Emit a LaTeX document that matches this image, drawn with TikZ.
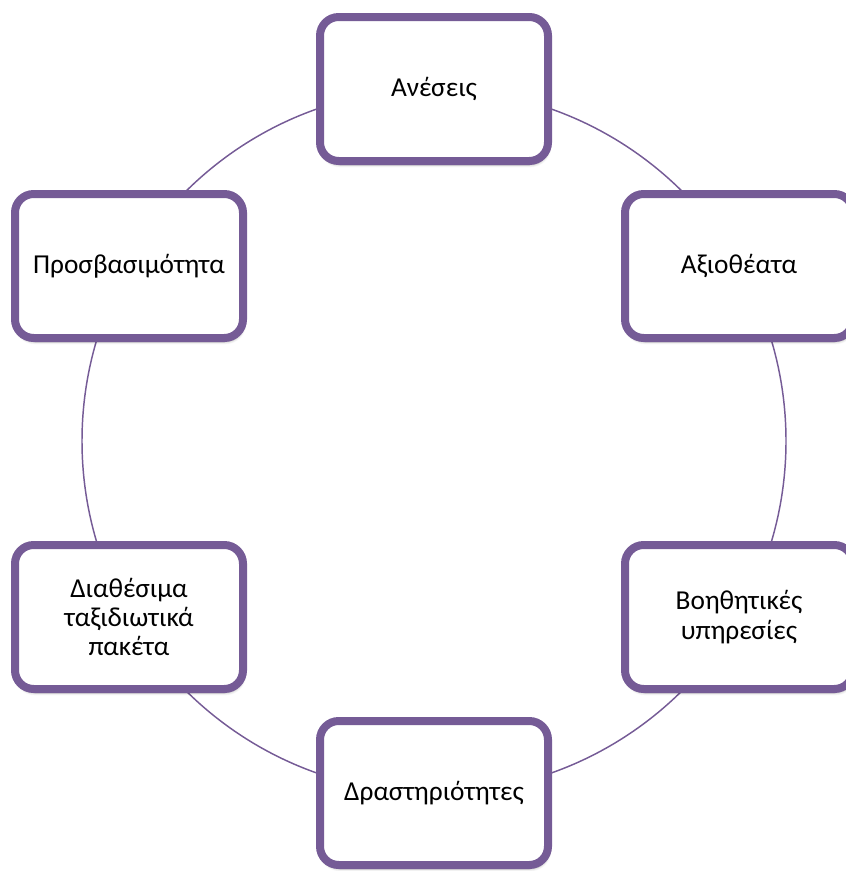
\documentclass[tikz,border=0pt]{standalone}
\usepackage{fontspec}
\setmainfont{Carlito}
\usepackage{tikz}
\usetikzlibrary{shadows.blur, positioning}

\definecolor{ringpurple}{RGB}{117,91,150}

\tikzset{
	factor/.style={draw=ringpurple, line width=6pt, fill=white, rounded corners=14pt,
		minimum width=171pt, minimum height=108pt, align=center, inner sep=0pt,
		font=\fontsize{20.5}{22}\selectfont,
		blur shadow={shadow xshift=0.8pt, shadow yshift=-3pt, shadow blur steps=6, shadow opacity=30}},
	ring/.style={draw=ringpurple, line width=1.1pt}
}

\begin{document}
\begin{tikzpicture}[x=0.75pt,y=0.75pt,yscale=-1,xscale=1]
		\useasboundingbox (0,0) rectangle (846,871);

		%Ring
		\coordinate (hub) at (434,441);
		\draw [ring] (hub) circle [radius=352];

		%Boxes
		\node [factor] (aneseis) at (434,89) {Ανέσεις};
		\node [factor] (axiotheata) at (739,266) {Αξιοθέατα};
		\node [factor] (voithitikes) at (739,617) {Βοηθητικές\\υπηρεσίες};
		\node [factor] (drastiriotites) at (434,793) {Δραστηριότητες};
		\node [factor] (paketa) at (129,617) {Διαθέσιμα\\ταξιδιωτικά\\πακέτα};
		\node [factor] (prosvasimotita) at (129,266) {Προσβασιμότητα};

\end{tikzpicture}
\end{document}
